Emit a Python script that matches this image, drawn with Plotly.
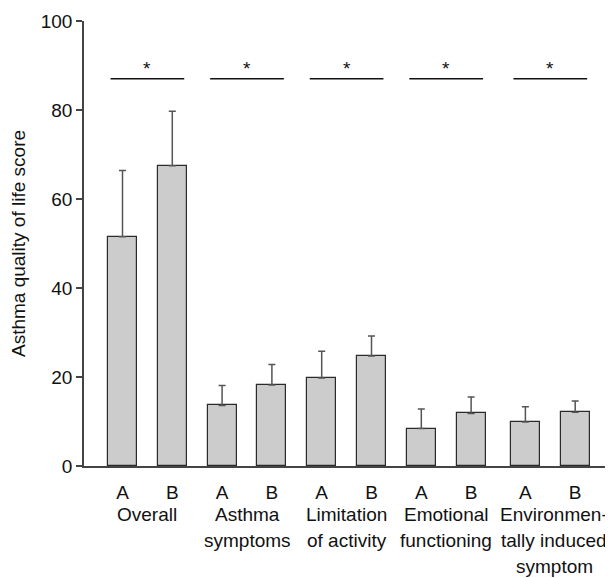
import plotly.graph_objects as go

groups = ["Overall", "Asthma symptoms", "Limitation of activity", "Emotional functioning", "Environmentally induced symptom"]
group_lines = [["Overall"], ["Asthma", "symptoms"], ["Limitation", "of activity"], ["Emotional", "functioning"], ["Environmen-", "tally induced", "symptom"]]
conditions = ["A", "B"]
means_A = [51.5, 13.6, 19.8, 8.4, 9.9]
means_B = [67.5, 18.2, 24.7, 11.8, 12.1]
sd_A = [14.9, 4.5, 6.0, 4.4, 3.4]
sd_B = [12.2, 4.6, 4.5, 3.7, 2.5]
sig_level = 87
star_level = 89.4
y_ticks = [0, 20, 40, 60, 80, 100]

FONT = "Liberation Sans, Arial, sans-serif"
FS = 19

# layout: slot positions along the x axis (last group sits a little further right)
group_offset = [0, 0, 0, 0, 0.09]
label_xshift = [0, 0, 0, 0, 4]


def group_center(g):
    return 2 * g + 0.5 + group_offset[g]


xs, ys, errs, labels = [], [], [], []
for g in range(len(groups)):
    for c, (m, s) in enumerate([(means_A[g], sd_A[g]), (means_B[g], sd_B[g])]):
        xs.append(2 * g + c + group_offset[g])
        ys.append(m)
        errs.append(s)
        labels.append(conditions[c])

fig = go.Figure()
fig.add_trace(go.Bar(
    x=xs, y=ys, width=0.582,
    marker=dict(color="#cccccc", line=dict(color="#2a2a2a", width=1.2)),
    error_y=dict(type="data", array=errs, arrayminus=[0] * len(errs), symmetric=False,
                 color="#555555", thickness=1.5, width=3.5),
    showlegend=False,
))

shapes = []
annotations = []
for g in range(len(groups)):
    cx = group_center(g)
    shapes.append(dict(type="line", xref="x", yref="y", x0=cx - 0.74, x1=cx + 0.74,
                       y0=sig_level, y1=sig_level, line=dict(color="#111111", width=1.5)))
    annotations.append(dict(x=cx, y=star_level, xref="x", yref="y", text="*", showarrow=False,
                            font=dict(family=FONT, size=19, color="#111111"), yanchor="middle"))
    for k, line in enumerate(group_lines[g]):
        annotations.append(dict(x=cx, y=0, xref="x", yref="paper", text=line, showarrow=False,
                                yanchor="middle", yshift=-48 - 26 * k, xshift=label_xshift[g],
                                font=dict(family=FONT, size=FS, color="#111111")))

# page body has an 8px default margin, so the figure is offset by 8px
fig.update_layout(
    width=605, height=570,
    margin=dict(l=76, r=1, t=13, b=112, autoexpand=False),
    plot_bgcolor="white", paper_bgcolor="white",
    font=dict(family=FONT, size=FS, color="#111111"),
    shapes=shapes, annotations=annotations,
    bargap=0,
)
fig.update_xaxes(range=[-0.773, 9.829], tickvals=xs, ticktext=labels, showgrid=False,
                 showline=True, linecolor="#444444", linewidth=1.5, ticks="", zeroline=False,
                 ticklabelstandoff=8, tickfont=dict(family=FONT, size=FS, color="#111111"))
fig.update_yaxes(range=[0, 100], tickvals=y_ticks, showgrid=False, zeroline=False,
                 showline=True, linecolor="#444444", linewidth=1.5, ticks="outside", ticklen=6,
                 tickcolor="#444444", tickwidth=1.5,
                 tickfont=dict(family=FONT, size=FS, color="#111111"),
                 title=dict(text="Asthma quality of life score", standoff=14,
                            font=dict(family=FONT, size=FS, color="#111111")))

fig.write_html("out.html")
